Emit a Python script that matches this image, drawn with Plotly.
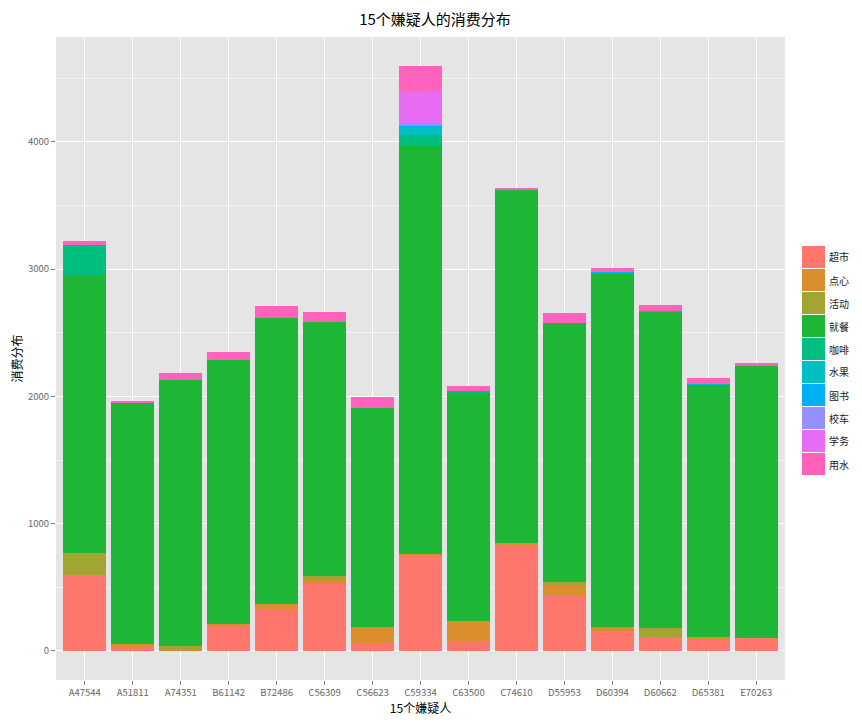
import plotly.graph_objects as go

suspects = ["A47544", "A51811", "A74351", "B61142", "B72486", "C56309", "C56623", "C59334",
            "C63500", "C74610", "D55953", "D60394", "D60662", "D65381", "E70263"]

categories = ["超市", "点心", "活动", "就餐", "咖啡", "水果", "图书", "校车", "学务", "用水"]
colors = ["#FF766D", "#DB8E2E", "#A3A533", "#1DB637", "#00BF80", "#00BFC4", "#00B0F6",
          "#9590FF", "#E76BF3", "#FF62BC"]

chaoshi = [597, 31, 0, 196, 330, 526, 63, 746, 79, 833, 432, 157, 113, 86, 102]
dianxin = [0, 24, 8, 16, 39, 32, 126, 16, 157, 15, 79, 32, 0, 24, 0]
huodong = [173, 0, 31, 0, 0, 31, 0, 0, 0, 0, 31, 0, 68, 0, 0]
jiucan = [2184, 1893, 2090, 2074, 2247, 1995, 1720, 3205, 1796, 2773, 2035, 2772, 2482, 1980, 2137]
kafei = [235, 0, 0, 0, 0, 0, 0, 86, 13, 0, 0, 0, 0, 0, 0]
shuiguo = [0, 0, 0, 0, 0, 0, 0, 63, 0, 0, 0, 0, 0, 6, 0]
tushu = [0, 0, 0, 0, 0, 0, 0, 12, 0, 0, 0, 19, 7, 0, 0]
xiaoche = [0, 0, 0, 0, 0, 0, 0, 12, 0, 0, 0, 0, 0, 0, 0]
xuewu = [0, 0, 0, 0, 0, 0, 0, 259, 0, 0, 0, 0, 0, 0, 0]
yongshui = [32, 16, 55, 63, 94, 79, 86, 196, 37, 16, 78, 29, 48, 49, 23]

series = [chaoshi, dianxin, huodong, jiucan, kafei, shuiguo, tushu, xiaoche, xuewu, yongshui]

font_cn = "Noto Sans CJK SC, DejaVu Sans, sans-serif"

# the page body adds an 8px offset, so the figure is drawn 8px smaller
OFF = 8
FW, FH = 862 - OFF, 722 - OFF
L, R, T, B = 56 - OFF, 785 - OFF, 37 - OFF, 680 - OFF
W, H = R - L, B - T

fig = go.Figure()
for name, vals, col in zip(categories, series, colors):
    fig.add_trace(go.Bar(x=suspects, y=vals, name=name, marker=dict(color=col, line=dict(width=0)),
                         showlegend=False))

# ggplot-like legend keys drawn by hand
for i, (name, col) in enumerate(zip(categories, colors)):
    top = 246 - OFF + i * 23
    fig.add_shape(type="rect", xref="paper", yref="paper",
                  x0=(802 - OFF - L) / W, x1=(825 - OFF - L) / W,
                  y0=(B - top - 22) / H, y1=(B - top) / H,
                  fillcolor=col, line=dict(width=0))
    fig.add_annotation(xref="paper", yref="paper", x=(827 - OFF - L) / W, y=(B - top - 11) / H,
                       text=name, showarrow=False, xanchor="left", yanchor="middle",
                       font=dict(size=10, color="#1a1a1a", family=font_cn))

fig.update_layout(
    barmode="stack",
    bargap=0.1,
    width=FW, height=FH,
    margin=dict(l=L, r=FW - R, t=T, b=FH - B, autoexpand=False),
    paper_bgcolor="white",
    plot_bgcolor="#E5E5E5",
    font=dict(family=font_cn),
    title=dict(text="15个嫌疑人的消费分布", x=0.5, xanchor="center", y=(FH - 20 + OFF) / FH,
               yanchor="middle", font=dict(size=15, color="black")),
    xaxis=dict(title=dict(text="15个嫌疑人", font=dict(size=12, color="black"), standoff=6),
               range=[-0.6, 14.6], showgrid=True, gridcolor="white", gridwidth=1.2,
               ticks="outside", ticklen=4, tickcolor="#7f7f7f", automargin=False,
               tickfont=dict(size=9.5, color="#666666"), zeroline=False),
    yaxis=dict(title=dict(text="消费分布", font=dict(size=12, color="black"), standoff=11),
               range=[-228, 4823], tickvals=[0, 1000, 2000, 3000, 4000],
               showgrid=True, gridcolor="white", gridwidth=1.2,
               minor=dict(tickvals=[500, 1500, 2500, 3500, 4500], showgrid=True,
                          gridcolor="#F2F2F2", gridwidth=0.6),
               ticks="outside", ticklen=4, tickcolor="#7f7f7f", automargin=False,
               tickfont=dict(size=9.5, color="#666666"), zeroline=False),
)

fig.write_html("out.html")
